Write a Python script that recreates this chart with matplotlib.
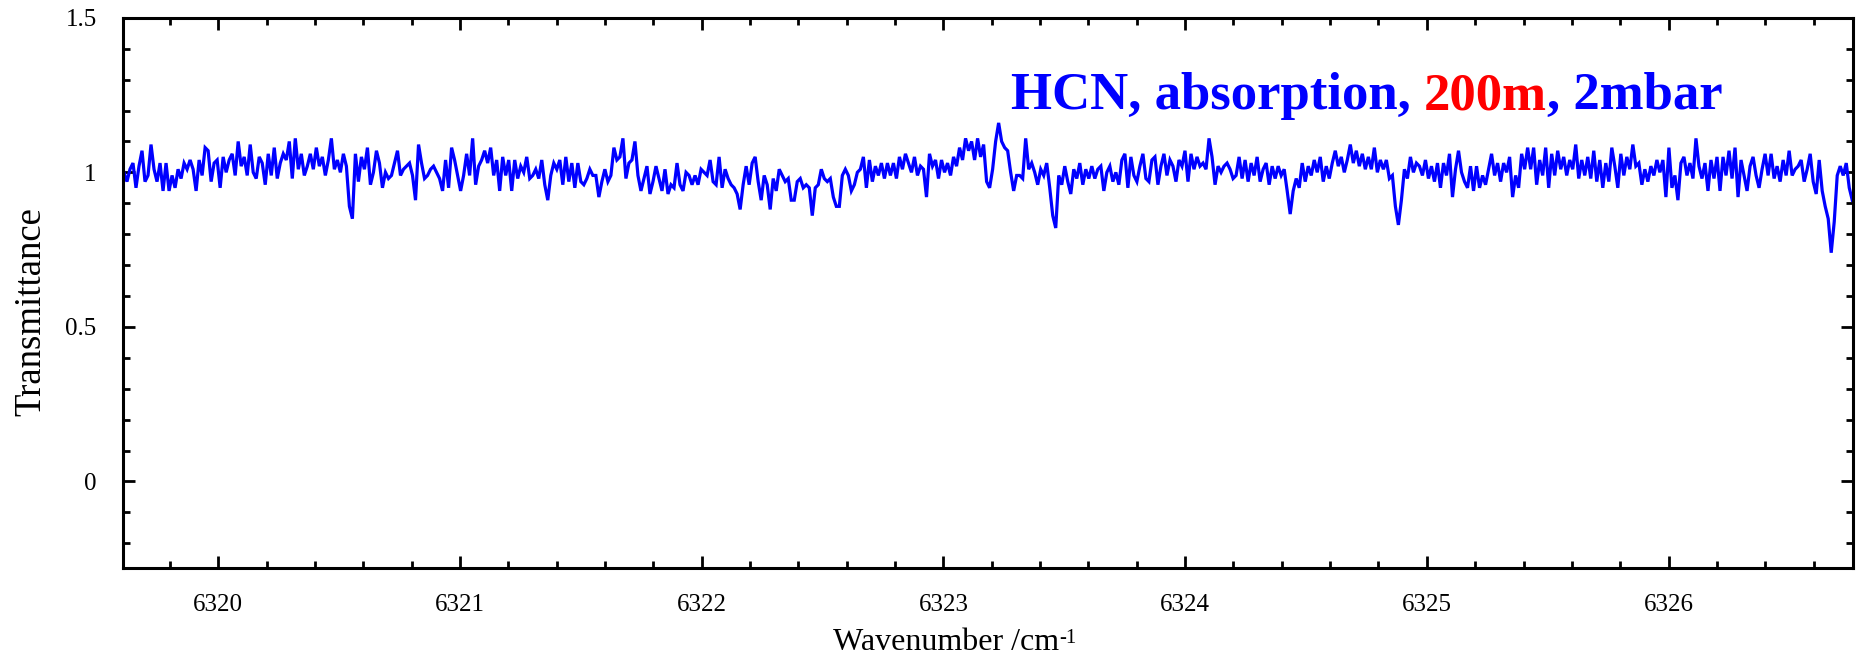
import numpy as np
import matplotlib
matplotlib.use("Agg")
import matplotlib.pyplot as plt
from matplotlib.ticker import MultipleLocator, FuncFormatter

wn_start = 6319.61
wn_end = 6326.76

t_part1 = [1.00, 0.97, 1.01, 1.03, 0.95, 1.02, 1.07, 0.97, 0.99, 1.09,
           1.01, 0.97, 1.03, 0.94, 1.03, 0.94, 0.99, 0.95, 1.01, 0.98,
           1.03, 1.01, 1.04, 1.01, 0.94, 1.04, 0.99, 1.08, 1.07, 0.97,
           1.03, 1.04, 0.95, 1.05, 1.00, 1.04, 1.06, 0.99, 1.10, 1.02,
           1.05, 0.99, 1.09, 1.00, 0.98, 1.05, 1.03, 0.96, 1.06, 0.99,
           1.08, 0.98, 1.03, 1.06, 1.04, 1.10, 0.98, 1.11, 1.01, 1.06,
           0.99, 1.02, 1.06, 1.01, 1.08, 1.02, 1.05, 0.99, 1.04, 1.11,
           1.01, 1.04]
t_part2 = [1.00, 1.06, 1.02, 0.89, 0.85, 1.06, 0.97, 1.05, 1.01, 1.08,
           0.96, 1.00, 1.07, 1.03, 0.95, 1.00, 0.98, 0.99, 1.03, 1.07,
           0.99, 1.01, 1.02, 1.03, 0.99, 0.91, 1.09, 1.03, 0.98, 0.99,
           1.01, 1.02, 1.00, 0.98, 0.94, 1.04, 0.95, 1.08, 1.04, 0.99,
           0.94, 0.99, 1.06, 0.99, 1.11, 0.96, 1.02, 1.04, 1.07, 1.03,
           1.08, 0.99, 1.04, 0.94, 1.05, 0.99, 1.04, 0.94, 1.04, 0.98,
           1.02, 1.00, 1.05, 0.98, 0.99, 1.01, 0.98, 1.04, 0.96, 0.91,
           0.99, 1.03]
t_part3 = [1.01, 1.04, 0.96, 1.05, 0.97, 1.03, 0.95, 1.03, 0.97, 0.96,
           0.98, 1.01, 0.99, 0.99, 0.92, 0.97, 1.01, 0.97, 0.99, 1.08,
           1.04, 1.05, 1.11, 0.98, 1.03, 1.04, 1.10, 0.99, 0.94, 0.98,
           1.02, 0.93, 0.97, 1.02, 0.98, 0.94, 1.01, 0.93, 0.96, 0.95,
           1.03, 0.96, 0.94, 1.00, 0.99, 0.96, 0.99, 0.96, 1.01, 1.00,
           0.99, 1.04, 0.97, 0.96, 1.05, 0.95, 1.01, 0.98, 0.96, 0.95,
           0.93, 0.88, 0.96, 1.02, 0.96, 1.03, 1.05, 0.97, 0.91, 0.99,
           0.96, 0.88]
t_part4 = [0.98, 0.94, 1.01, 0.99, 0.97, 0.98, 0.91, 0.91, 0.97, 0.98,
           0.95, 0.96, 0.95, 0.86, 0.95, 0.96, 1.01, 0.98, 0.97, 0.98,
           0.92, 0.89, 0.89, 0.99, 1.01, 0.99, 0.94, 0.96, 1.00, 1.01,
           1.05, 0.95, 1.04, 0.97, 1.02, 0.99, 1.03, 0.98, 1.03, 0.99,
           1.03, 0.98, 1.05, 1.01, 1.06, 1.03, 1.00, 1.05, 0.99, 1.02,
           1.01, 0.92, 1.06, 1.02, 1.04, 0.98, 1.04, 1.00, 1.03, 0.99,
           1.05, 1.02, 1.08, 1.04, 1.11, 1.07, 1.10, 1.04, 1.11, 1.05,
           1.09, 0.97]
t_part5 = [0.95, 1.01, 1.10, 1.16, 1.10, 1.08, 1.07, 1.00, 0.94, 0.99,
           0.99, 0.98, 1.11, 1.01, 1.03, 1.00, 0.96, 1.01, 0.99, 1.03,
           0.95, 0.86, 0.82, 0.99, 0.96, 1.02, 0.97, 0.93, 1.01, 0.98,
           1.03, 0.96, 1.01, 0.98, 1.02, 0.98, 1.01, 1.02, 0.94, 1.00,
           1.02, 0.97, 1.00, 0.96, 1.04, 1.06, 0.95, 1.05, 0.99, 0.97,
           1.02, 1.06, 0.98, 0.97, 1.04, 1.05, 0.96, 1.02, 1.06, 0.99,
           1.04, 1.02, 0.97, 1.04, 1.02, 1.07, 0.97, 1.06, 1.01, 1.05,
           1.02, 1.03]
t_part6 = [1.01, 1.11, 1.05, 0.96, 1.02, 1.00, 1.02, 1.03, 1.01, 0.98,
           0.99, 1.05, 0.98, 1.04, 0.97, 1.03, 0.99, 1.05, 0.97, 1.01,
           1.03, 0.96, 1.02, 0.98, 1.02, 0.99, 1.01, 0.94, 0.865, 0.94,
           0.98, 0.95, 1.03, 0.97, 1.02, 0.99, 1.04, 1.00, 1.05, 0.97,
           1.02, 0.98, 1.03, 1.07, 1.02, 1.05, 1.00, 1.04, 1.09, 1.03,
           1.07, 1.02, 1.06, 1.01, 1.05, 1.01, 1.08, 1.00, 1.04, 1.01,
           1.04, 0.98, 0.99, 0.89, 0.83, 0.91, 1.01, 0.98, 1.05, 1.00,
           1.03, 1.02]
t_part7 = [0.99, 1.04, 0.98, 1.02, 0.97, 1.03, 0.95, 1.03, 0.99, 1.06,
           0.92, 1.01, 1.07, 1.00, 0.97, 0.95, 1.02, 0.94, 1.02, 0.95,
           0.99, 0.96, 1.01, 1.06, 0.99, 1.03, 0.97, 1.03, 1.00, 1.05,
           0.92, 0.99, 0.95, 1.06, 1.01, 1.08, 1.01, 1.08, 0.96, 1.04,
           0.99, 1.08, 0.95, 1.06, 0.99, 1.07, 1.01, 1.05, 0.99, 1.04,
           1.01, 1.09, 0.98, 1.04, 0.99, 1.05, 0.98, 1.07, 0.97, 1.04,
           0.95, 1.03, 0.97, 1.08, 1.02, 0.95, 1.06, 0.99, 1.05, 1.01,
           1.09, 1.02]
t_part8 = [1.03, 0.96, 1.01, 0.97, 1.02, 0.99, 1.04, 1.00, 1.04, 0.92,
           1.08, 0.95, 0.99, 0.91, 1.03, 1.05, 0.99, 1.03, 0.98, 1.11,
           1.02, 0.98, 1.03, 0.94, 1.04, 0.98, 1.05, 0.94, 1.05, 0.99,
           1.07, 0.98, 1.08, 0.92, 1.04, 0.99, 0.94, 1.02, 1.05, 0.99,
           0.95, 1.01, 1.06, 0.99, 1.06, 0.98, 1.02, 0.97, 1.04, 0.99,
           1.07, 0.99, 1.01, 1.02, 1.04, 0.97, 1.01, 1.06, 0.97, 0.93,
           1.04, 0.94, 0.89, 0.85, 0.74, 0.84, 0.99, 1.02, 0.99, 1.03,
           0.95, 0.91]

trans = np.array(t_part1 + t_part2 + t_part3 + t_part4 +
                 t_part5 + t_part6 + t_part7 + t_part8)
# равномерная сетка по волновому числу
wn = np.linspace(wn_start, wn_end, len(trans))

plt.rcParams['font.family'] = 'Liberation Serif'

W, H = 1861, 657
fig = plt.figure(figsize=(W / 100, H / 100), dpi=100)
ax = fig.add_axes([123 / W, (H - 568) / H, (1852.5 - 123) / W, (568 - 17.8) / H])

ax.plot(wn, trans, color='#0000ff', lw=2.3, solid_joinstyle='miter')

ax.set_xlim(6319.606, 6326.761)
ax.set_ylim(-0.28, 1.5)
ax.xaxis.set_major_locator(MultipleLocator(1))
ax.xaxis.set_minor_locator(MultipleLocator(0.2))
ax.yaxis.set_major_locator(MultipleLocator(0.5))
ax.yaxis.set_minor_locator(MultipleLocator(0.1))
fmt = FuncFormatter(lambda v, p: f'{v:g}')
ax.xaxis.set_major_formatter(fmt)
ax.yaxis.set_major_formatter(fmt)

ax.tick_params(which='both', direction='in', top=True, right=True,
               width=2, labelsize=18)
ax.tick_params(which='major', length=8.6)
ax.tick_params(which='minor', length=5)
ax.tick_params(axis='x', pad=19)
ax.tick_params(axis='y', pad=19)
for sp in ax.spines.values():
    sp.set_linewidth(2.2)

# подписи осей
fig.text(31 / W, 1 - 311.7 / H, 'Transmittance', rotation=90,
         ha='center', va='center', fontsize=26.5)
xl = fig.text(946 / W, 1 - 650 / H, 'Wavenumber /cm',
              ha='center', va='baseline', fontsize=23)
ax.annotate('-1', xycoords=xl, xy=(1, 0.97), va='top', ha='left',
            fontsize=15)

# заголовок внутри графика, "200m" красным
kw = dict(fontsize=38, fontweight='bold')
t1 = ax.text(0.5134, 0.834, 'HCN, absorption, ', transform=ax.transAxes,
             color='#0000ff', va='baseline', **kw)
t2 = ax.annotate('200m', xycoords=t1, xy=(1, 0), va='bottom',
                 color='#ff0000', **kw)
ax.annotate(', 2mbar', xycoords=t2, xy=(1, 0), va='bottom',
            color='#0000ff', **kw)

fig.savefig('out.png', dpi=100)
